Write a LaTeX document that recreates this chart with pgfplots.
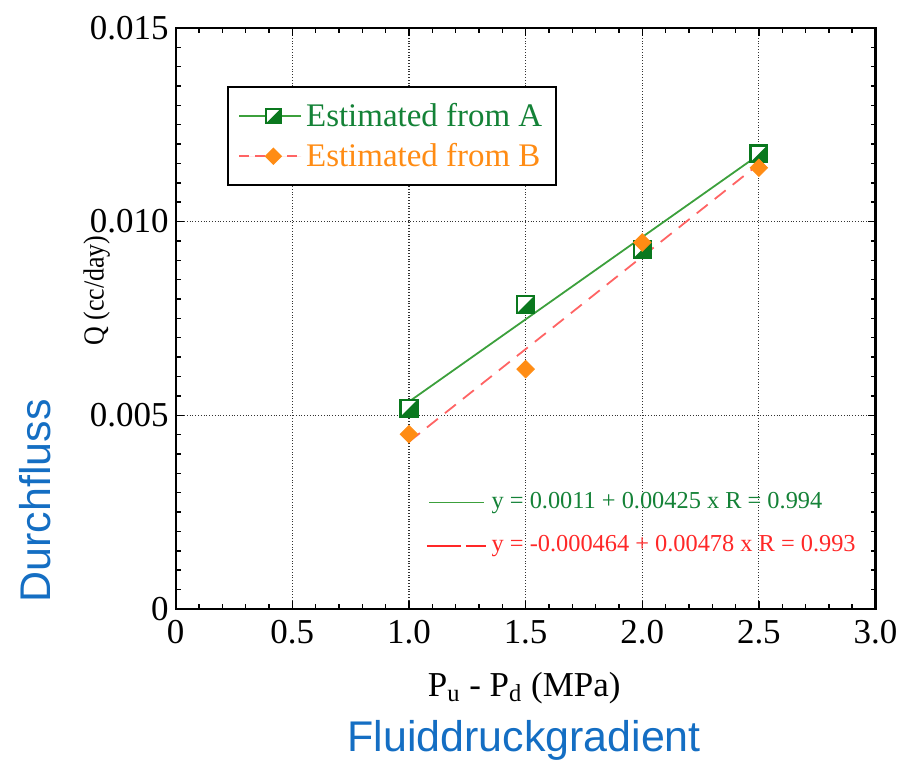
\documentclass[border=0pt]{standalone}
\usepackage{fontspec}
\setmainfont{Liberation Serif}
\setsansfont{Liberation Sans}
\usepackage{pgfplots}
\pgfplotsset{compat=1.18}

\definecolor{markA}{RGB}{10,120,30}
\definecolor{lineA}{RGB}{60,160,60}
\definecolor{textA}{RGB}{20,130,55}
\definecolor{orangeB}{RGB}{255,140,20}
\definecolor{lineB}{RGB}{255,100,100}
\definecolor{textB}{RGB}{255,40,40}
\definecolor{labelblue}{RGB}{20,110,195}

% half filled square: white upper-left, filled lower-right
\pgfdeclareplotmark{halfsq}{%
  \begin{pgfscope}
    \pgfsetfillcolor{white}%
    \pgfpathrectangle{\pgfqpoint{-\pgfplotmarksize}{-\pgfplotmarksize}}{\pgfqpoint{2\pgfplotmarksize}{2\pgfplotmarksize}}%
    \pgfusepathqfill
  \end{pgfscope}
  \pgfpathmoveto{\pgfqpoint{-\pgfplotmarksize}{-\pgfplotmarksize}}%
  \pgfpathlineto{\pgfqpoint{\pgfplotmarksize}{-\pgfplotmarksize}}%
  \pgfpathlineto{\pgfqpoint{\pgfplotmarksize}{\pgfplotmarksize}}%
  \pgfpathclose
  \pgfusepathqfill
  \pgfpathrectangle{\pgfqpoint{-\pgfplotmarksize}{-\pgfplotmarksize}}{\pgfqpoint{2\pgfplotmarksize}{2\pgfplotmarksize}}%
  \pgfusepathqstroke
}

\newcommand{\tickfont}{\fontsize{17.5}{21}\selectfont}
\newcommand{\legfont}{\fontsize{16.5}{20}\selectfont}

\begin{document}
\begin{tikzpicture}
\begin{axis}[
    scale only axis, width=350.5pt, height=291pt,
    xmin=0, xmax=3, ymin=0, ymax=0.015,
    xtick={0,0.5,1,1.5,2,2.5,3},
    xticklabels={0,0.5,1.0,1.5,2.0,2.5,3.0},
    ytick={0,0.005,0.01,0.015},
    yticklabels={0,0.005,0.010,0.015},
    scaled ticks=false,
    minor x tick num=4, minor y tick num=9,
    tick align=inside,
    major tick length=4pt, minor tick length=2.5pt,
    tick style={black, line width=0.7pt},
    axis line style={line width=1.1pt},
    grid=major,
    major grid style={densely dotted, black!80, line width=0.6pt},
    ticklabel style={font=\tickfont},
    xticklabel style={yshift=-2pt},
    /pgf/number format/assume math mode=true,
    clip=false,
    legend cell align=left,
    legend style={at={(rel axis cs:0.074,0.900)}, anchor=north west,
        draw=black, line width=1pt, font=\legfont,
        inner xsep=5pt, inner ysep=6pt, row sep=3pt},
]
% fitted lines
\addplot[lineA, line width=0.9pt, forget plot] coordinates {(1.0,0.00535)(2.5,0.011725)};
\addplot[lineB, line width=0.9pt, dash pattern=on 7pt off 4.5pt, forget plot]
    coordinates {(1.0,0.004316)(2.5,0.011486)};

% measured points
\addplot[only marks, mark=halfsq, mark size=4.2pt, draw=markA, fill=markA, line width=1.2pt,
    legend image code/.code={
        \draw[lineA, line width=0.9pt] (0pt,0pt) -- (31pt,0pt);
        \draw[markA, fill=markA, line width=1.1pt] plot[mark=halfsq, mark size=3.6pt] coordinates {(17pt,0pt)};
    }]
    coordinates {(1.0,0.00518)(1.5,0.00786)(2.0,0.00928)(2.5,0.01175)};
\addlegendentry{\textcolor{textA}{Estimated from A}}

\addplot[only marks, mark=square*, mark size=3.1pt, mark options={rotate=45},
    draw=orangeB, fill=orangeB,
    legend image code/.code={
        \draw[lineB, line width=0.9pt, dash pattern=on 5pt off 3pt] (0pt,0pt) -- (31pt,0pt);
        \draw[orangeB, fill=orangeB] plot[mark=square*, mark size=2.6pt, mark options={rotate=45}] coordinates {(17pt,0pt)};
    }]
    coordinates {(1.0,0.00451)(1.5,0.00619)(2.0,0.00946)(2.5,0.01139)};
\addlegendentry{\textcolor{orangeB}{Estimated from B}}

% regression notes
\draw[lineA, line width=0.8pt] (rel axis cs:0.362,0.183) -- (rel axis cs:0.441,0.183);
\node[anchor=west, text=textA, font=\fontsize{12.2}{14}\selectfont, inner sep=0pt]
    at (rel axis cs:0.451,0.183) {y = 0.0011 + 0.00425 x R = 0.994};
\draw[textB, line width=0.8pt, dash pattern=on 17pt off 2.5pt] (rel axis cs:0.359,0.108) -- (rel axis cs:0.444,0.108);
\node[anchor=west, text=textB, font=\fontsize{12.2}{14}\selectfont, inner sep=0pt]
    at (rel axis cs:0.451,0.108) {y = -0.000464 + 0.00478 x R = 0.993};

% axis labels
\node[font=\tickfont, anchor=center] at (rel axis cs:0.498,-0.136) {P$_{\mathrm{u}}$ - P$_{\mathrm{d}}$ (MPa)};
\node[font=\sffamily\fontsize{21.5}{24}\selectfont, text=labelblue] at (rel axis cs:0.498,-0.227) {Fluiddruckgradient};
\node[font=\fontsize{13}{15}\selectfont, rotate=90] at (rel axis cs:-0.113,0.548) {\scalebox{1}[1.12]{Q (cc/day)}};
\node[font=\sffamily\fontsize{21.5}{24}\selectfont, text=labelblue, rotate=90] at (rel axis cs:-0.201,0.186) {Durchfluss};

% page frame matching the reference canvas
\path (rel axis cs:-0.251,-0.266) rectangle (rel axis cs:1.0385,1.048);
\end{axis}
\end{tikzpicture}
\end{document}
